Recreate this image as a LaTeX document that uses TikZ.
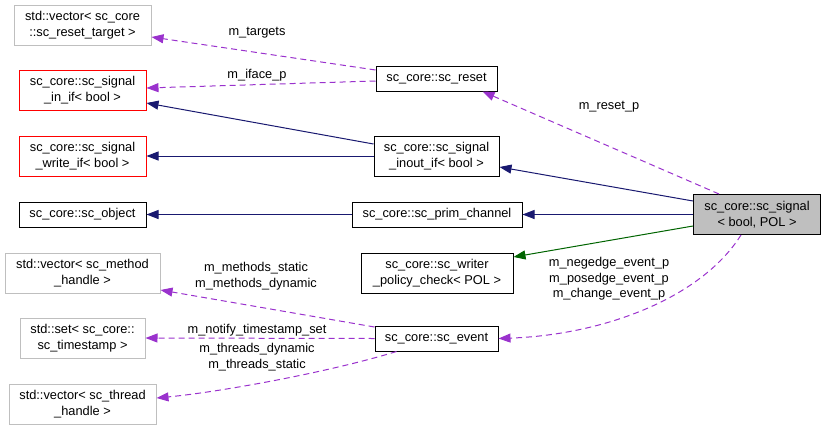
\documentclass[tikz,border=0pt]{standalone}
\usepackage{fontspec}
\setmainfont{Liberation Sans}
\usetikzlibrary{arrows.meta,calc}
\definecolor{navyc}{HTML}{191970}
\definecolor{greenc}{HTML}{006400}
\definecolor{purplec}{HTML}{9A32CD}
\definecolor{grayb}{HTML}{BFBFBF}
\definecolor{redb}{HTML}{FF0000}
\begin{document}
\begin{tikzpicture}[x=1pt,y=-1pt,
  every node/.style={font=\fontsize{12.8}{15.5}\selectfont, inner sep=0pt, align=center},
  box/.style={draw=black, line width=1pt, fill=white},
  graybox/.style={box, draw=grayb},
  redbox/.style={box, draw=redb},
  mainbox/.style={box, fill=grayb},
  inh/.style={draw=navyc, line width=1pt, -{Triangle[length=12pt,width=9pt,fill=navyc]}},
  tmpl/.style={draw=greenc, line width=1pt, -{Triangle[length=12pt,width=9pt,fill=greenc]}},
  usage/.style={draw=purplec, line width=1pt, dash pattern=on 6pt off 4pt, -{Triangle[length=12pt,width=9pt,fill=purplec]}},
  lbl/.style={fill=none, draw=none}]
\useasboundingbox (0,0) rectangle (827,429);
% nodes
\node[graybox, minimum width=137pt, minimum height=40pt] (rt) at (82.5,25) {std::vector< sc\_core\\::sc\_reset\_target >};
\node[redbox, minimum width=127pt, minimum height=40pt] (inif) at (82.5,90) {sc\_core::sc\_signal\\\_in\_if< bool >};
\node[redbox, minimum width=127pt, minimum height=40pt] (wrif) at (82.5,156) {sc\_core::sc\_signal\\\_write\_if< bool >};
\node[box, minimum width=127pt, minimum height=25pt] (obj) at (82.5,214.5) {sc\_core::sc\_object};
\node[graybox, minimum width=155pt, minimum height=40pt] (meth) at (82.5,273) {std::vector< sc\_method\\\_handle >};
\node[graybox, minimum width=125pt, minimum height=40pt] (ts) at (82.5,338) {std::set< sc\_core::\\sc\_timestamp >};
\node[graybox, minimum width=147pt, minimum height=40pt] (thr) at (82.5,404) {std::vector< sc\_thread\\\_handle >};
\node[box, minimum width=121pt, minimum height=25pt] (reset) at (436.5,78.5) {sc\_core::sc\_reset};
\node[box, minimum width=125pt, minimum height=40pt] (inout) at (436.5,156) {sc\_core::sc\_signal\\\_inout\_if< bool >};
\node[box, minimum width=170pt, minimum height=25pt] (prim) at (437,214.5) {sc\_core::sc\_prim\_channel};
\node[box, minimum width=152pt, minimum height=40pt] (writer) at (437,273) {sc\_core::sc\_writer\\\_policy\_check< POL >};
\node[box, minimum width=123pt, minimum height=25pt] (event) at (436.5,338.5) {sc\_core::sc\_event};
\node[mainbox, minimum width=127pt, minimum height=40pt] (sig) at (757,214.5) {sc\_core::sc\_signal\\< bool, POL >};
% edges
\draw[inh] ([yshift=13.5pt]sig.west) -- ([yshift=-11pt]inout.east);
\draw[inh] (sig.west) -- (prim.east);
\draw[tmpl] ([yshift=-11.5pt]sig.west) -- ([yshift=16pt]writer.east);
\draw[usage] ([xshift=-38pt]sig.north) -- ([xshift=46pt]reset.south);
\draw[usage] ([xshift=-16pt]sig.south) .. controls (700,300) and (600,335) .. (event.east);
\draw[usage] ([yshift=8.5pt]reset.west) -- ([yshift=-12pt]rt.east);
\draw[usage] ([yshift=-2.5pt]reset.west) -- ([yshift=2pt]inif.east);
\draw[inh] ([yshift=12pt]inout.west) -- ([yshift=-13pt]inif.east);
\draw[inh] (inout.west) -- (wrif.east);
\draw[inh] (prim.west) -- (obj.east);
\draw[usage] ([yshift=11.5pt]event.west) -- ([yshift=-17pt]meth.east);
\draw[usage] (event.west) -- (ts.east);
\draw[usage] ([xshift=-40pt]event.south) .. controls (330,372) and (220,392) .. ([yshift=6pt]thr.east);
% labels
\node[lbl] (l1) at (257,33) {m\_targets};
\node[lbl] (l2) at (257,75) {m\_iface\_p};
\node[lbl] (l3) at (609,107) {m\_reset\_p};
\node[lbl] (l4) at (256,276) {m\_methods\_static\\m\_methods\_dynamic};
\node[lbl] (l5) at (257,330) {m\_notify\_timestamp\_set};
\node[lbl] (l6) at (257,357) {m\_threads\_dynamic\\m\_threads\_static};
\node[lbl] (l7) at (609,279) {m\_negedge\_event\_p\\m\_posedge\_event\_p\\m\_change\_event\_p};
\end{tikzpicture}
\end{document}
